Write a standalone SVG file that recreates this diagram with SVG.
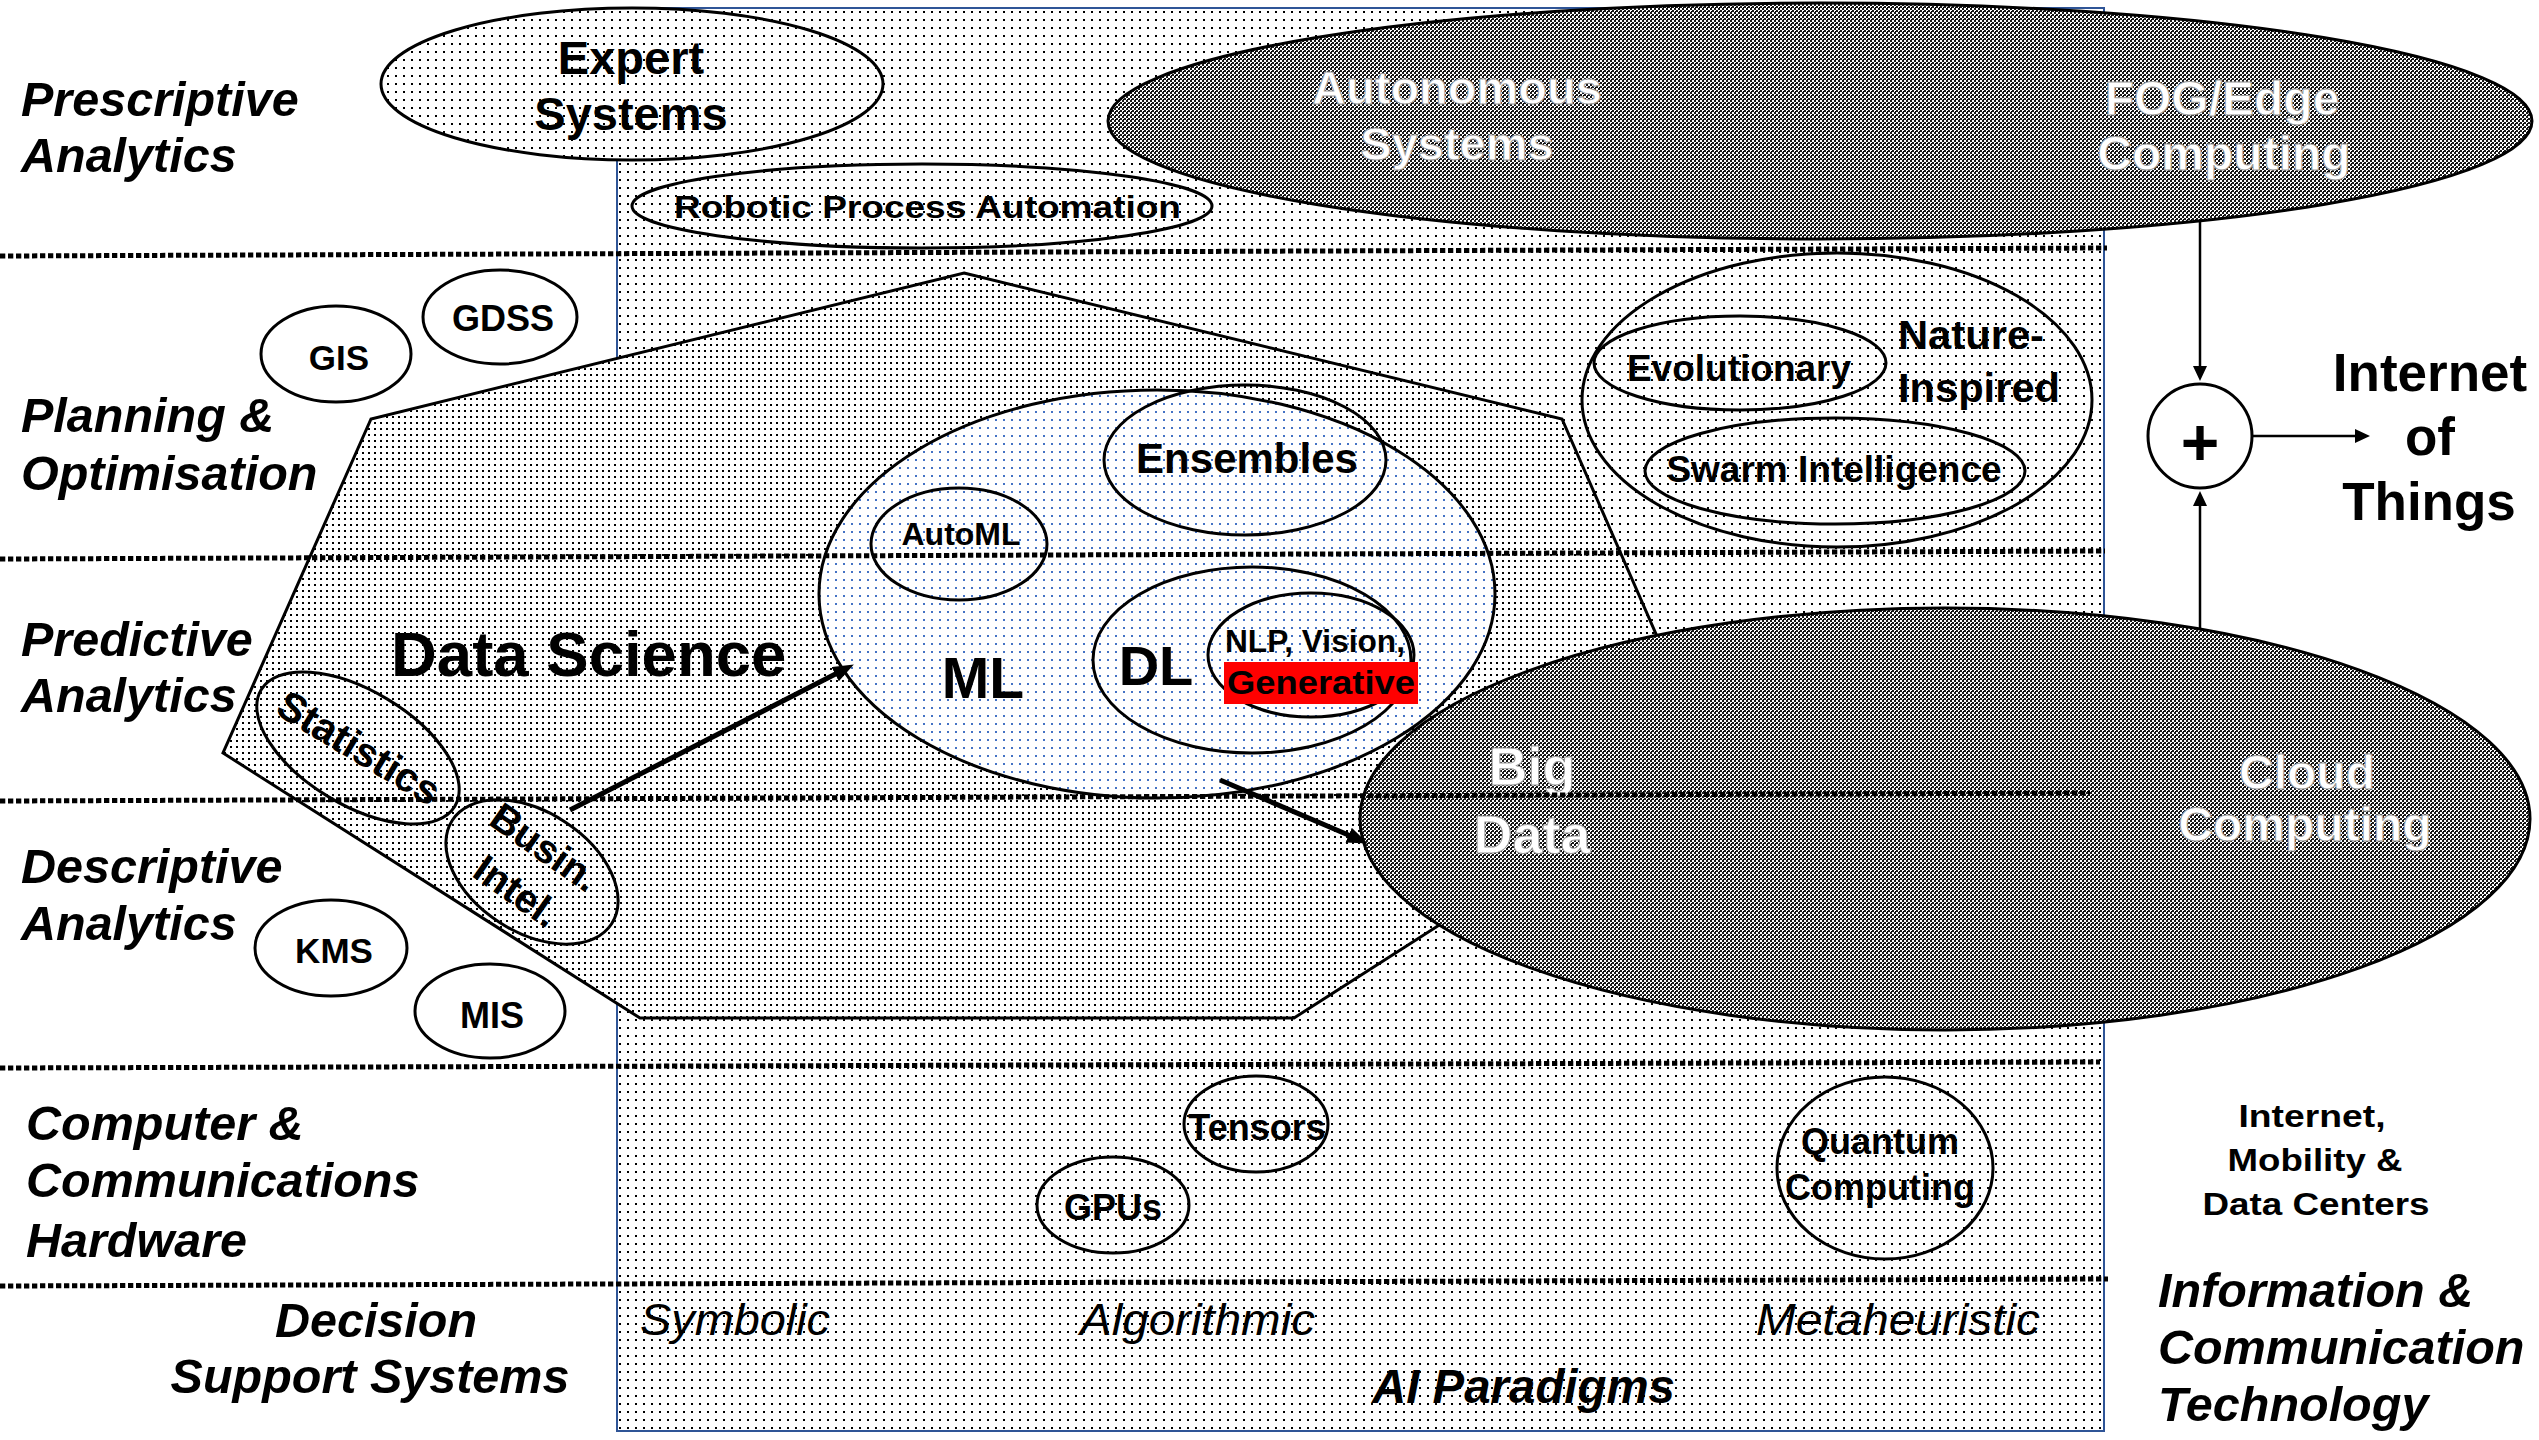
<svg xmlns="http://www.w3.org/2000/svg" width="2539" height="1440" viewBox="0 0 2539 1440">
<defs>
<pattern id="pDots" width="8" height="8" patternUnits="userSpaceOnUse"><rect width="8" height="8" fill="#fff"/><rect x="3" y="3" width="2" height="2" fill="#000"/></pattern>
<pattern id="pDense" width="6" height="6" patternUnits="userSpaceOnUse"><rect width="6" height="6" fill="#fff"/><rect x="2" y="2" width="2" height="2" fill="#000"/></pattern>
<pattern id="pBlue" width="8" height="8" patternUnits="userSpaceOnUse"><rect width="8" height="8" fill="#fff"/><rect x="3" y="3" width="2" height="2" fill="#4472C4"/></pattern>
<pattern id="pCheck" width="4" height="4" patternUnits="userSpaceOnUse"><rect width="4" height="4" fill="#1a1a1a"/><rect width="2" height="2" fill="#fff"/><rect x="2" y="2" width="2" height="2" fill="#fff"/><rect x="3" y="3" width="1" height="1" fill="#000"/></pattern>
<marker id="mBig" markerUnits="userSpaceOnUse" markerWidth="22" markerHeight="18" refX="8" refY="8" orient="auto"><path d="M0,0 L21,8 L0,16 z" fill="#000"/></marker>
<marker id="mSmall" markerUnits="userSpaceOnUse" markerWidth="16" markerHeight="16" refX="5" refY="7" orient="auto"><path d="M0,0 L15,7 L0,14 z" fill="#000"/></marker>
</defs>
<style>
.o { fill:none; stroke:#000; stroke-width:3 }
.wf { fill:#fff; stroke:#000; stroke-width:3 }
.dk { fill:url(#pCheck); stroke:#000; stroke-width:3 }
.t { font-family:"Liberation Sans", Arial, sans-serif; font-weight:bold; fill:#000 }
.m { text-anchor:middle }
.lab { font-style:italic; font-size:48.5px }
.wt { fill:#fff; stroke:#9a9a9a; stroke-width:1 }
.para { font-weight:normal; font-style:italic; font-size:44px }
.dl { stroke:#000; stroke-width:5; stroke-dasharray:5.3 2.7; fill:none }
.ar { stroke:#000; stroke-width:5; fill:none; marker-end:url(#mBig) }
.ar2 { stroke:#000; stroke-width:2.5; fill:none; marker-end:url(#mSmall) }
</style>
<rect width="2539" height="1440" fill="#fff"/>

<g id="ai-paradigms">
<rect x="617" y="8" width="1487" height="1423" fill="url(#pDots)" stroke="#2F5597" stroke-width="2"/>
</g>

<g id="expert-systems"><ellipse cx="632" cy="84" rx="251" ry="76" fill="url(#pDots)" stroke="#000" stroke-width="3"/>
<text class="t m" x="631" y="74" font-size="47">Expert</text><text class="t m" x="631" y="130" font-size="47">Systems</text></g>

<g id="rpa"><ellipse cx="922" cy="206" rx="290" ry="42" class="o"/>
<text class="t" x="674" y="218" font-size="31" textLength="507" lengthAdjust="spacingAndGlyphs">Robotic Process Automation</text></g>

<g id="autonomous-fog"><ellipse cx="1820" cy="121" rx="712" ry="118" class="dk"/>
<text class="t m wt" x="1457" y="104" font-size="47">Autonomous</text><text class="t m wt" x="1457" y="160" font-size="47">Systems</text>
<text class="t m wt" x="2222" y="115" font-size="48">FOG/Edge</text><text class="t m wt" x="2224" y="170" font-size="48">Computing</text></g>

<g id="data-science"><polygon points="964,273 1562,419 1708,753 1294,1018 640,1018 223,753 371,419" fill="url(#pDense)" stroke="#000" stroke-width="3"/>
<text class="t" x="391" y="676" font-size="63.5">Data Science</text></g>

<g id="ml"><ellipse cx="1157" cy="594" rx="338" ry="204" fill="url(#pBlue)" stroke="#000" stroke-width="3"/>
<text class="t m" x="983" y="698" font-size="57">ML</text></g>

<g id="automl"><ellipse cx="959" cy="544" rx="88" ry="56" class="o"/>
<text class="t m" x="961" y="545" font-size="32">AutoML</text></g>

<g id="ensembles"><ellipse cx="1245" cy="460" rx="141" ry="75" class="o"/>
<text class="t m" x="1247" y="473" font-size="42">Ensembles</text></g>

<g id="dl"><ellipse cx="1252" cy="660" rx="159" ry="93" class="o"/>
<text class="t m" x="1156" y="685" font-size="56">DL</text></g>

<g id="nlp"><ellipse cx="1311" cy="655" rx="103" ry="62" class="o"/>
<text class="t" x="1225" y="652" font-size="32" textLength="180" lengthAdjust="spacingAndGlyphs">NLP, Vision,</text>
<rect x="1224" y="662" width="194" height="42" fill="#FF0000"/>
<text class="t" x="1227" y="694" font-size="33" textLength="188" lengthAdjust="spacingAndGlyphs">Generative</text></g>

<g id="statistics"><ellipse cx="358" cy="748" rx="113" ry="57" transform="rotate(31 358 748)" class="o"/>
<text class="t m" x="359" y="762" font-size="41" transform="rotate(31 359 748)">Statistics</text></g>

<g id="busin-intel"><ellipse cx="532" cy="872" rx="95" ry="60" transform="rotate(33 532 872)" class="o"/>
<g transform="rotate(35 532 871)"><text class="t m" x="529" y="858" font-size="40">Busin.</text><text class="t m" x="531" y="910" font-size="40">Intel.</text></g></g>

<g id="gis"><ellipse cx="336" cy="354" rx="75" ry="48" class="wf"/><text class="t m" x="339" y="370" font-size="35">GIS</text></g>
<g id="gdss"><ellipse cx="500" cy="317" rx="77" ry="47" class="wf"/><text class="t m" x="503" y="331" font-size="36">GDSS</text></g>
<g id="kms"><ellipse cx="331" cy="948" rx="76" ry="48" class="wf"/><text class="t m" x="334" y="963" font-size="35">KMS</text></g>
<g id="mis"><ellipse cx="490" cy="1011" rx="75" ry="47" class="wf"/><text class="t m" x="492" y="1028" font-size="36">MIS</text></g>

<g id="tensors"><ellipse cx="1256" cy="1124" rx="72" ry="48" class="o"/><text class="t m" x="1257" y="1140" font-size="36">Tensors</text></g>
<g id="gpus"><ellipse cx="1113" cy="1205" rx="76" ry="48" class="o"/><text class="t m" x="1113" y="1220" font-size="36">GPUs</text></g>
<g id="quantum"><ellipse cx="1885" cy="1168" rx="108" ry="91" class="o"/>
<text class="t m" x="1880" y="1154" font-size="36">Quantum</text><text class="t m" x="1880" y="1200" font-size="36">Computing</text></g>

<g id="nature-inspired"><ellipse cx="1837" cy="400" rx="255" ry="147" class="o"/>
<text class="t" x="1898" y="349" font-size="40" textLength="146" lengthAdjust="spacingAndGlyphs">Nature-</text>
<text class="t" x="1898" y="402" font-size="40" textLength="162" lengthAdjust="spacingAndGlyphs">Inspired</text></g>
<g id="evolutionary"><ellipse cx="1740" cy="363" rx="146" ry="47" class="o"/><text class="t m" x="1739" y="381" font-size="37">Evolutionary</text></g>
<g id="swarm"><ellipse cx="1835" cy="471" rx="190" ry="53" class="o"/><text class="t m" x="1834" y="482" font-size="37">Swarm Intelligence</text></g>

<g id="bigdata-cloud"><ellipse cx="1945" cy="819" rx="585" ry="211" class="dk"/>
<text class="t m wt" x="1532" y="785" font-size="54">Big</text><text class="t m wt" x="1532" y="853" font-size="54">Data</text>
<text class="t m wt" x="2307" y="789" font-size="48">Cloud</text><text class="t m wt" x="2305" y="841" font-size="48">Computing</text></g>

<g id="plus"><circle cx="2200" cy="436" r="52" class="wf"/><text class="t m" x="2200" y="465" font-size="66">+</text></g>

<g id="iot"><text class="t m" x="2430" y="391" font-size="53">Internet</text><text class="t m" x="2430" y="455" font-size="53">of</text><text class="t m" x="2429" y="520" font-size="53">Things</text></g>

<g id="connectors">
<line x1="570" y1="810" x2="842.3" y2="670.5" class="ar"/>
<line x1="1220" y1="780" x2="1356" y2="838.3" class="ar"/>
<line x1="2200" y1="221" x2="2200" y2="371" class="ar2"/>
<line x1="2200" y1="629" x2="2200" y2="501" class="ar2"/>
<line x1="2253" y1="436" x2="2360" y2="436" class="ar2"/>
</g>

<g id="row-lines">
<line x1="0" y1="256" x2="2107" y2="248" class="dl"/>
<line x1="0" y1="559" x2="2105" y2="551" class="dl"/>
<line x1="0" y1="801" x2="2090" y2="793" class="dl"/>
<line x1="0" y1="1068" x2="2100" y2="1062" class="dl"/>
<line x1="0" y1="1286" x2="2108" y2="1279" class="dl"/>
</g>

<g id="row-labels">
<text class="t lab" x="21" y="116">Prescriptive</text><text class="t lab" x="21" y="172">Analytics</text>
<text class="t lab" x="21" y="432">Planning &amp;</text><text class="t lab" x="21" y="490">Optimisation</text>
<text class="t lab" x="21" y="656">Predictive</text><text class="t lab" x="21" y="712">Analytics</text>
<text class="t lab" x="21" y="883">Descriptive</text><text class="t lab" x="21" y="940">Analytics</text>
<text class="t lab" x="26" y="1140">Computer &amp;</text><text class="t lab" x="26" y="1197">Communications</text><text class="t lab" x="26" y="1257">Hardware</text>
<text class="t lab m" x="376" y="1337">Decision</text><text class="t lab m" x="370" y="1393">Support Systems</text>
<text class="t lab" x="2158" y="1307">Information &amp;</text><text class="t lab" x="2158" y="1364">Communication</text><text class="t lab" x="2158" y="1421">Technology</text>
</g>

<g id="ict-labels">
<text class="t m" x="2312" y="1127" font-size="32" textLength="147" lengthAdjust="spacingAndGlyphs">Internet,</text>
<text class="t m" x="2315" y="1171" font-size="32" textLength="175" lengthAdjust="spacingAndGlyphs">Mobility &amp;</text>
<text class="t m" x="2316" y="1215" font-size="32" textLength="227" lengthAdjust="spacingAndGlyphs">Data Centers</text>
</g>

<g id="paradigm-labels">
<text class="t para" x="640" y="1335" textLength="190" lengthAdjust="spacingAndGlyphs">Symbolic</text>
<text class="t para" x="1080" y="1335" textLength="235" lengthAdjust="spacingAndGlyphs">Algorithmic</text>
<text class="t para" x="1756" y="1335" textLength="284" lengthAdjust="spacingAndGlyphs">Metaheuristic</text>
<text class="t lab" x="1372" y="1403" font-size="44" textLength="303" lengthAdjust="spacingAndGlyphs">AI Paradigms</text>
</g>
</svg>
